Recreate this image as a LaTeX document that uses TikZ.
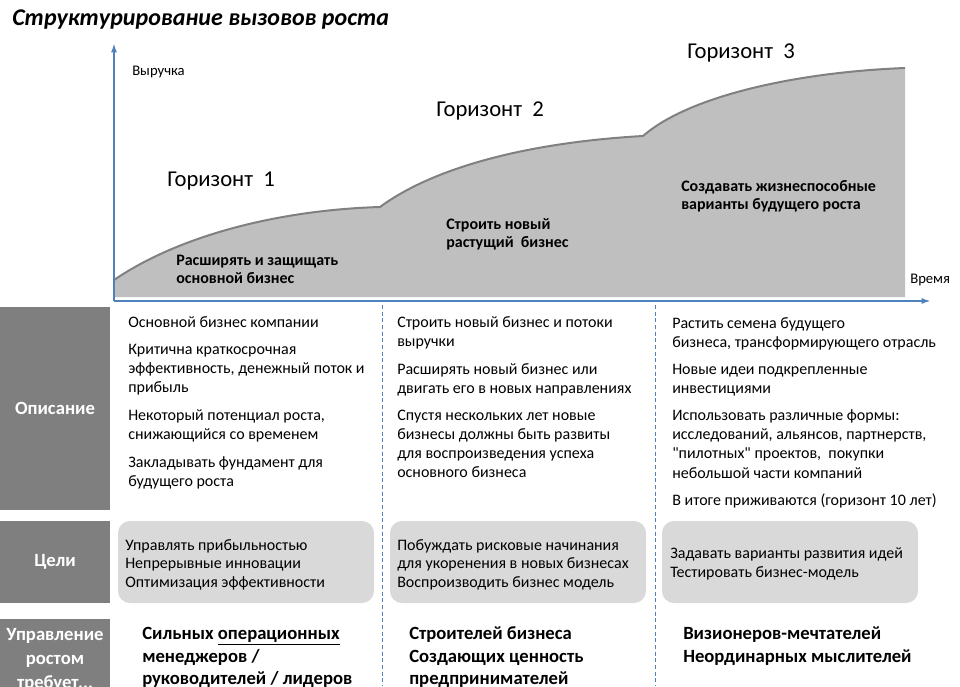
\documentclass[tikz,border=0pt]{standalone}
\usepackage{fontspec}
\setmainfont{Carlito}[Ligatures=TeXOff]
\usepackage{xcolor}
\usetikzlibrary{positioning, arrows.meta}

\definecolor{axisblue}{HTML}{4F81BD}
\definecolor{rowgray}{HTML}{7F7F7F}
\definecolor{areagray}{HTML}{BFBFBF}
\definecolor{edgegray}{HTML}{808080}
\definecolor{goalgray}{HTML}{D9D9D9}

\begin{document}
\begin{tikzpicture}[x=0.75pt, y=-0.75pt, >=latex,
    txt/.style={anchor=base west, inner sep=0pt, font=\fontsize{12}{14}\selectfont},
    aim/.style={anchor=base west, inner sep=0pt, font=\fontsize{12}{14}\selectfont\bfseries},
    horizon/.style={anchor=base west, inner sep=0pt, font=\fontsize{17}{20}\selectfont},
    lead/.style={anchor=base west, inner sep=0pt, font=\fontsize{14}{17}\selectfont\bfseries},
    axislabel/.style={anchor=base west, inner sep=0pt, font=\fontsize{11}{13}\selectfont},
    rowlabel/.style={fill=rowgray, text=white, align=center, minimum width=82.5pt,
        inner sep=0pt, font=\fontsize{14}{18}\selectfont\bfseries},
    divider/.style={axisblue, dash pattern=on 3pt off 2pt, line width=0.75pt}]
    \useasboundingbox (0,0) rectangle (960,686);
    \clip (0,0) rectangle (960,686);

    % Title
    \node[anchor=base west, inner sep=0pt, font=\fontsize{18}{22}\selectfont\bfseries\itshape]
        (title) at (12,25) {Структурирование вызовов роста};

    % Growth curve
    \fill[areagray] (114,280) .. controls (180,235) and (280,210) .. (380,207)
        .. controls (430,170) and (520,143) .. (643,136)
        .. controls (690,95) and (800,72) .. (905,68) |- (114,297) -- cycle;
    \draw[edgegray, line width=1.5pt] (114,280) .. controls (180,235) and (280,210) .. (380,207)
        .. controls (430,170) and (520,143) .. (643,136)
        .. controls (690,95) and (800,72) .. (905,68);

    % Axis
    \coordinate (origin) at (114,301);
    \coordinate (ytip) at (114,43);
    \coordinate (xtip) at (931,301);
    \draw[axisblue, line width=1.5pt, -{Latex[length=7pt,width=4.5pt]}] (origin) -- (ytip);
    \draw[axisblue, line width=1.5pt, -{Latex[length=7pt,width=4.5pt]}] (origin) -- (xtip);
    \node[axislabel] (revenue) at (132,75) {Выручка};
    \node[axislabel] (time) at (910,283) {Время};

    % Horizons
    \node[horizon] (hor1) at (167,186) {Горизонт\hspace{0.45em}1};
    \node[horizon] (hor2) at (436,116) {Горизонт\hspace{0.45em}2};
    \node[horizon] (hor3) at (687,58) {Горизонт\hspace{0.45em}3};
    \node[aim] (aim1a) at (176,265) {Расширять и защищать};
    \node[aim] (aim1b) at (176,283) {основной бизнес};
    \node[aim] (aim2a) at (446,229) {Строить новый};
    \node[aim] (aim2b) at (446,247) {растущий\hspace{0.45em}бизнес};
    \node[aim] (aim3a) at (681,191) {Создавать жизнеспособные};
    \node[aim] (aim3b) at (681,209) {варианты будущего роста};

    % Dividers
    \foreach \x in {382,655}
    \draw[divider] (\x,305) -- (\x,686);

    % Row labels
    \node[rowlabel, minimum height=152.25pt] (rowdesc) at (55,408.5) {Описание};
    \node[rowlabel, minimum height=61.5pt] (rowgoal) at (55,562) {Цели};
    \node[rowlabel, minimum height=62.25pt] (rowlead) at (55,660) {Управление\\ростом\\требует...};

    % Description
    \foreach \y/\t [count=\i] in {327/Основной бизнес компании, 354/Критична краткосрочная,
        373/{эффективность, денежный поток и}, 392/прибыль, 420/{Некоторый потенциал роста,},
        439/снижающийся со временем, 467/Закладывать фундамент для, 486/будущего роста}
    \node[txt] (da\i) at (128,\y) {\t};
    \foreach \y/\t [count=\i] in {327/Строить новый бизнес и потоки, 346/выручки,
        374/Расширять новый бизнес или, 393/двигать его в новых направлениях,
        420/Спустя нескольких лет новые, 439/бизнесы должны быть развиты,
        458/для воспроизведения успеха, 477/основного бизнеса}
    \node[txt] (db\i) at (397,\y) {\t};
    \foreach \y/\t [count=\i] in {328/Растить семена будущего, 347/{бизнеса, трансформирующего отрасль},
        374/Новые идеи подкрепленные, 393/инвестициями, 420/Использовать различные формы:,
        439/{исследований, альянсов, партнерств,},
        458/{"пилотных" проектов,\ \ покупки},
        478/небольшой части компаний, 505/В итоге приживаются (горизонт 10 лет)}
    \node[txt] (dc\i) at (672,\y) {\t};

    % Goals
    \foreach \x in {118,390,662}
    \fill[goalgray, rounded corners=9pt] (\x,521) rectangle ++(256,82);
    \node[txt] (ga1) at (125,550) {Управлять прибыльностью};
    \node[txt] (ga2) at (125,568) {Непрерывные инновации};
    \node[txt] (ga3) at (125,587) {Оптимизация эффективности};
    \node[txt] (gb1) at (397,550) {Побуждать рисковые начинания};
    \node[txt] (gb2) at (397,568) {для укоренения в новых бизнесах};
    \node[txt] (gb3) at (397,587) {Воспроизводить бизнес модель};
    \node[txt] (gc1) at (670,558) {Задавать варианты развития идей};
    \node[txt] (gc2) at (670,577) {Тестировать бизнес-модель};

    % Leaders
    \node[lead] (la1) at (142,639) {Сильных \underline{операционных}};
    \node[lead] (la2) at (142,662) {менеджеров /};
    \node[lead] (la3) at (142,684) {руководителей / лидеров};
    \node[lead] (lb1) at (409,639) {Строителей бизнеса};
    \node[lead] (lb2) at (409,662) {Создающих ценность};
    \node[lead] (lb3) at (409,684) {предпринимателей};
    \node[lead] (lc1) at (683,639) {Визионеров-мечтателей};
    \node[lead] (lc2) at (683,662) {Неординарных мыслителей};
\end{tikzpicture}
\end{document}
